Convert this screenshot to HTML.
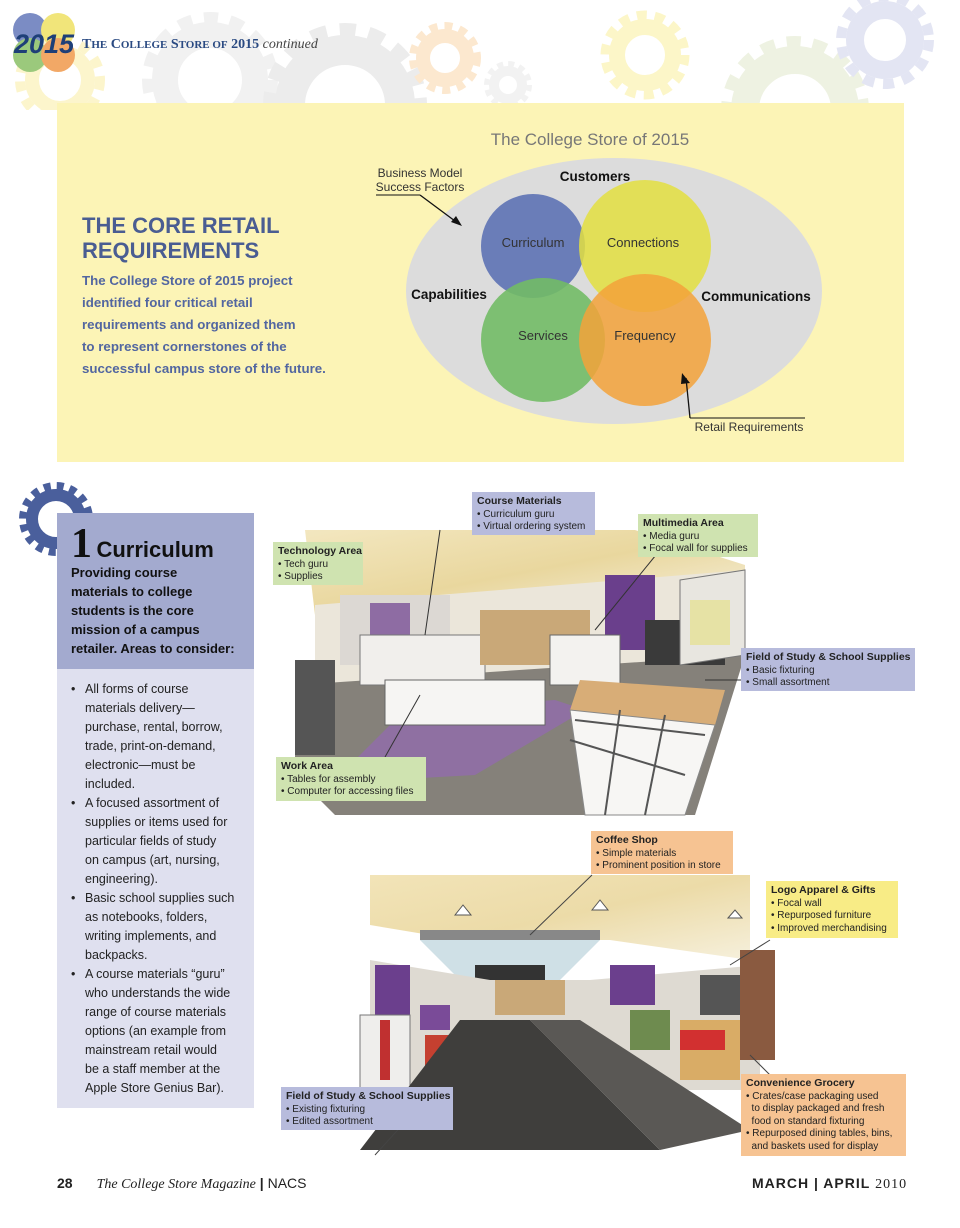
<!DOCTYPE html>
<html><head><meta charset="utf-8"><style>
*{margin:0;padding:0;box-sizing:border-box}
body{width:960px;height:1228px;background:#fff;position:relative;overflow:hidden;font-family:"Liberation Sans",sans-serif}
.a{position:absolute}
.lbl{position:absolute;font-size:10px;line-height:12.5px;color:#222;padding:3px 5px;white-space:nowrap;overflow:hidden}
.lbl b{font-size:10.5px}
.g{background:#cfe3b0}.b{background:#b7bbdc}.o{background:#f6c392}.y{background:#f8ec86}
</style></head><body>
<svg class="a" style="left:0;top:0" width="960" height="110">
 <g fill="none">
  <circle cx="60" cy="80" r="28" stroke="#fcf5cc" stroke-width="14"/>
  <circle cx="60" cy="80" r="40" stroke="#fcf5cc" stroke-width="10" stroke-dasharray="10 9"/>
  <circle cx="210" cy="80" r="45" stroke="#f1f1f1" stroke-width="26"/>
  <circle cx="210" cy="80" r="62" stroke="#f1f1f1" stroke-width="12" stroke-dasharray="14 12"/>
  <circle cx="345" cy="105" r="55" stroke="#ececec" stroke-width="30"/>
  <circle cx="345" cy="105" r="75" stroke="#ececec" stroke-width="14" stroke-dasharray="16 13"/>
  <circle cx="445" cy="58" r="22" stroke="#fce8cf" stroke-width="14"/>
  <circle cx="445" cy="58" r="32" stroke="#fce8cf" stroke-width="8" stroke-dasharray="8 7"/>
  <circle cx="508" cy="85" r="14" stroke="#f2f2f2" stroke-width="10"/>
  <circle cx="508" cy="85" r="21" stroke="#f2f2f2" stroke-width="6" stroke-dasharray="6 5"/>
  <circle cx="645" cy="55" r="28" stroke="#fcf6c8" stroke-width="16"/>
  <circle cx="645" cy="55" r="40" stroke="#fcf6c8" stroke-width="9" stroke-dasharray="10 8"/>
  <circle cx="795" cy="110" r="50" stroke="#eef2e2" stroke-width="28"/>
  <circle cx="795" cy="110" r="68" stroke="#eef2e2" stroke-width="12" stroke-dasharray="14 12"/>
  <circle cx="885" cy="40" r="30" stroke="#e3e5f3" stroke-width="18"/>
  <circle cx="885" cy="40" r="44" stroke="#e3e5f3" stroke-width="10" stroke-dasharray="11 9"/>
 </g>
 <circle cx="30" cy="30" r="17" fill="#7b8cc4"/><circle cx="58" cy="30" r="17" fill="#f1e57a"/>
 <circle cx="30" cy="55" r="17" fill="#9bc97c"/><circle cx="58" cy="55" r="17" fill="#f2a866"/>
 <text x="14" y="53" font-family="Liberation Sans" font-weight="bold" font-style="italic" font-size="27" fill="#1e3f78">2015</text>
 <text x="82" y="48" font-family="Liberation Serif" font-weight="bold" font-size="14" fill="#2a4a82">T<tspan font-size="11">HE</tspan> C<tspan font-size="11">OLLEGE</tspan> S<tspan font-size="11">TORE OF</tspan> 2015 <tspan font-weight="normal" font-style="italic" fill="#444" font-size="14">continued</tspan></text>
</svg>
<div class="a" style="left:57px;top:103px;width:847px;height:359px;background:#fcf4b6"></div>
<div class="a" style="left:82px;top:213px;color:#4a5d92;font-weight:bold;font-size:22px;line-height:25px">THE CORE RETAIL<br>REQUIREMENTS</div>
<div class="a" style="left:82px;top:270px;color:#5266a0;font-weight:bold;font-size:13.3px;line-height:22px">The College Store of 2015 project<br>identified four critical retail<br>requirements and organized them<br>to represent cornerstones of the<br>successful campus store of the future.</div>
<svg class="a" style="left:0;top:0" width="960" height="470" font-family="Liberation Sans">
 <text x="590" y="145" font-size="17" fill="#777" text-anchor="middle">The College Store of 2015</text>
 <ellipse cx="614" cy="291" rx="208" ry="133" fill="#dcdcdc"/>
 <circle cx="533" cy="246" r="52" fill="#6a7db8"/>
 <circle cx="645" cy="246" r="66" fill="#e3df40" opacity="0.85"/>
 <circle cx="543" cy="340" r="62" fill="#72bb66" opacity="0.9"/>
 <circle cx="645" cy="340" r="66" fill="#f3a23a" opacity="0.85"/>
 <text x="533" y="247" font-size="13" fill="#333" text-anchor="middle">Curriculum</text>
 <text x="643" y="247" font-size="13" fill="#333" text-anchor="middle">Connections</text>
 <text x="543" y="340" font-size="13" fill="#333" text-anchor="middle">Services</text>
 <text x="645" y="340" font-size="13" fill="#333" text-anchor="middle">Frequency</text>
 <text x="595" y="181" font-size="13.5" font-weight="bold" fill="#111" text-anchor="middle">Customers</text>
 <text x="449" y="299" font-size="13.5" font-weight="bold" fill="#111" text-anchor="middle">Capabilities</text>
 <text x="756" y="301" font-size="13.5" font-weight="bold" fill="#111" text-anchor="middle">Communications</text>
 <text x="420" y="177" font-size="12" fill="#333" text-anchor="middle">Business Model</text>
 <text x="420" y="191" font-size="12" fill="#333" text-anchor="middle">Success Factors</text>
 <line x1="376" y1="195" x2="420" y2="195" stroke="#111"/>
 <line x1="420" y1="195" x2="459" y2="224" stroke="#111" stroke-width="1.3"/>
 <polygon points="462,226 451,222 456,216" fill="#111"/>
 <line x1="690" y1="418" x2="805" y2="418" stroke="#111"/>
 <line x1="690" y1="418" x2="686" y2="378" stroke="#111" stroke-width="1.3"/>
 <polygon points="682,373 690,383 681,384" fill="#111"/>
 <text x="749" y="431" font-size="12" fill="#333" text-anchor="middle">Retail Requirements</text>
</svg>
<svg class="a" style="left:15px;top:478px" width="85" height="85">
 <circle cx="41" cy="41" r="24" fill="none" stroke="#4a5f9c" stroke-width="12"/>
 <circle cx="41" cy="41" r="33" fill="none" stroke="#4a5f9c" stroke-width="8" stroke-dasharray="7 6"/>
</svg>
<div class="a" style="left:57px;top:513px;width:197px;height:156px;background:#a3aacf"></div>
<div class="a" style="left:57px;top:669px;width:197px;height:439px;background:#dfe0ef"></div>
<div class="a" style="left:71px;top:522px;color:#111;white-space:nowrap"><span style="font-family:'Liberation Serif';font-size:42px;font-weight:bold;line-height:44px">1</span> <span style="font-size:22px;font-weight:bold">Curriculum</span></div>
<div class="a" style="left:71px;top:563px;color:#111;font-weight:bold;font-size:13px;line-height:19px">Providing course<br>materials to college<br>students is the core<br>mission of a campus<br>retailer. Areas to consider:</div>
<div class="a" style="left:71px;top:680px;width:180px;color:#222;font-size:12.5px;line-height:19px">
<div style="display:flex"><span style="width:14px;flex:none">•</span><span>All forms of course<br>materials delivery—<br>purchase, rental, borrow,<br>trade, print-on-demand,<br>electronic—must be<br>included.</span></div>
<div style="display:flex"><span style="width:14px;flex:none">•</span><span>A focused assortment of<br>supplies or items used for<br>particular fields of study<br>on campus (art, nursing,<br>engineering).</span></div>
<div style="display:flex"><span style="width:14px;flex:none">•</span><span>Basic school supplies such<br>as notebooks, folders,<br>writing implements, and<br>backpacks.</span></div>
<div style="display:flex"><span style="width:14px;flex:none">•</span><span>A course materials “guru”<br>who understands the wide<br>range of course materials<br>options (an example from<br>mainstream retail would<br>be a staff member at the<br>Apple Store Genius Bar).</span></div>
</div>
<!-- sketch 1 -->
<svg class="a" style="left:275px;top:495px" width="640" height="325">
 <defs><linearGradient id="c1" x1="0" y1="0" x2="1" y2="1"><stop offset="0" stop-color="#f3e7c0"/><stop offset="0.5" stop-color="#e9d79e"/><stop offset="1" stop-color="#f7f2e2"/></linearGradient></defs>
 <polygon points="30,35 360,35 470,70 470,110 40,120" fill="url(#c1)"/>
 <polygon points="40,110 470,75 470,165 40,190" fill="#ebe6da"/>
 <polygon points="20,190 470,160 420,320 60,320 20,280" fill="#85817a"/>
 <polygon points="80,265 130,215 280,205 310,215 200,280 110,285" fill="#8f70a2"/>
 <rect x="65" y="100" width="110" height="70" fill="#dcd8d3"/>
 <rect x="95" y="108" width="40" height="35" fill="#8e6ca3"/>
 <rect x="85" y="140" width="125" height="50" fill="#f1efec" stroke="#777"/>
 <rect x="110" y="185" width="160" height="45" fill="#f6f5f3" stroke="#666"/>
 <rect x="20" y="165" width="40" height="95" fill="#555"/>
 <rect x="205" y="115" width="110" height="55" fill="#c9a878"/>
 <rect x="330" y="80" width="50" height="75" fill="#6a3f8c"/>
 <rect x="275" y="140" width="70" height="50" fill="#f3f2ef" stroke="#666"/>
 <rect x="370" y="125" width="80" height="45" fill="#3a3a3a"/>
 <polygon points="405,85 470,75 470,160 405,170" fill="#e8e6e0" stroke="#777"/>
 <rect x="415" y="105" width="40" height="45" fill="#e6df8c" opacity="0.7"/>
 <polygon points="305,185 450,195 440,230 295,215" fill="#d8ad77"/>
 <polygon points="295,215 440,230 410,320 310,320" fill="#f7f6f4" stroke="#888"/>
 <g stroke="#555" stroke-width="2"><line x1="295" y1="245" x2="410" y2="280"/><line x1="300" y1="225" x2="430" y2="240"/><line x1="345" y1="215" x2="330" y2="320"/><line x1="390" y1="220" x2="370" y2="320"/></g>
 <g stroke="#333" stroke-width="1"><line x1="110" y1="262" x2="145" y2="200"/><line x1="165" y1="35" x2="150" y2="140"/><line x1="385" y1="55" x2="320" y2="135"/><line x1="470" y1="185" x2="430" y2="185"/></g>
</svg>
<div class="lbl b" style="left:472px;top:492px;width:123px;height:43px"><b>Course Materials</b><br>• Curriculum guru<br>• Virtual ordering system</div>
<div class="lbl g" style="left:638px;top:514px;width:120px;height:43px"><b>Multimedia Area</b><br>• Media guru<br>• Focal wall for supplies</div>
<div class="lbl g" style="left:273px;top:542px;width:90px;height:43px"><b>Technology Area</b><br>• Tech guru<br>• Supplies</div>
<div class="lbl b" style="left:741px;top:648px;width:174px;height:43px"><b>Field of Study &amp; School Supplies</b><br>• Basic fixturing<br>• Small assortment</div>
<div class="lbl g" style="left:276px;top:757px;width:150px;height:44px"><b>Work Area</b><br>• Tables for assembly<br>• Computer for accessing files</div>
<!-- sketch 2 -->
<svg class="a" style="left:330px;top:830px" width="590" height="330">
 <defs><linearGradient id="c2" x1="0" y1="0" x2="1" y2="1"><stop offset="0" stop-color="#f2e4b8"/><stop offset="0.5" stop-color="#ecdba8"/><stop offset="1" stop-color="#f6f0dc"/></linearGradient></defs>
 <polygon points="40,45 420,45 420,130 280,110 130,110 40,95" fill="url(#c2)"/>
 <rect x="90" y="100" width="180" height="10" fill="#888"/>
 <polygon points="90,110 270,110 230,150 130,150" fill="#cfe0e6"/>
 <rect x="145" y="135" width="70" height="20" fill="#333"/>
 <polygon points="40,130 160,150 260,150 430,135 430,260 40,260" fill="#dedad2"/>
 <rect x="165" y="150" width="70" height="35" fill="#c9a878"/>
 <rect x="45" y="135" width="35" height="65" fill="#6b3f8d"/>
 <rect x="280" y="135" width="45" height="40" fill="#6b3f8d"/>
 <rect x="30" y="185" width="50" height="80" fill="#efeeec" stroke="#777"/>
 <rect x="50" y="190" width="10" height="60" fill="#c03030"/>
 <rect x="90" y="175" width="30" height="25" fill="#7a4b98"/>
 <rect x="95" y="205" width="35" height="35" fill="#c54030"/>
 <rect x="90" y="250" width="35" height="30" fill="#7ab0c0"/>
 <polygon points="130,190 200,190 330,320 30,320" fill="#3f3e3c"/>
 <polygon points="200,190 250,190 420,300 330,320" fill="#5a5855"/>
 <rect x="350" y="190" width="60" height="60" fill="#d9ac66"/>
 <rect x="350" y="200" width="45" height="20" fill="#d23030"/>
 <rect x="300" y="180" width="40" height="40" fill="#6e8b4f"/>
 <rect x="370" y="145" width="60" height="40" fill="#555"/>
 <rect x="410" y="120" width="35" height="110" fill="#8a5a40"/>
 <g stroke="#444" stroke-width="1"><line x1="200" y1="105" x2="262" y2="45"/><line x1="440" y1="110" x2="400" y2="135"/><line x1="95" y1="270" x2="45" y2="325"/><line x1="420" y1="225" x2="445" y2="250"/></g>
 <g fill="#fff" stroke="#555"><path d="M125,85 l8,-10 l8,10z"/><path d="M262,80 l8,-10 l8,10z"/><path d="M398,88 l7,-8 l7,8z"/></g>
</svg>
<div class="lbl o" style="left:591px;top:831px;width:142px;height:43px"><b>Coffee Shop</b><br>• Simple materials<br>• Prominent position in store</div>
<div class="lbl y" style="left:766px;top:881px;width:132px;height:57px"><b>Logo Apparel &amp; Gifts</b><br>• Focal wall<br>• Repurposed furniture<br>• Improved merchandising</div>
<div class="lbl b" style="left:281px;top:1087px;width:172px;height:43px"><b>Field of Study &amp; School Supplies</b><br>• Existing fixturing<br>• Edited assortment</div>
<div class="lbl o" style="left:741px;top:1074px;width:165px;height:82px"><b>Convenience Grocery</b><br>• Crates/case packaging used<br>&nbsp;&nbsp;to display packaged and fresh<br>&nbsp;&nbsp;food on standard fixturing<br>• Repurposed dining tables, bins,<br>&nbsp;&nbsp;and baskets used for display</div>
<div class="a" style="left:57px;top:1175px;font-size:14px;color:#222;white-space:nowrap"><b>28</b><span style="display:inline-block;width:24px"></span><i style="font-family:'Liberation Serif'">The College Store Magazine</i> <b>|</b> NACS</div>
<div class="a" style="left:752px;top:1175px;font-size:14px;color:#222;white-space:nowrap;letter-spacing:1px"><b>MARCH | APRIL</b> <span style="font-family:'Liberation Serif'">2010</span></div>
</body></html>
